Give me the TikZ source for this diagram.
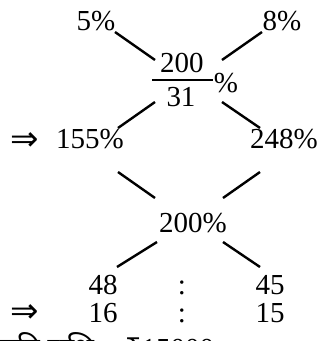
\documentclass[tikz,border=0pt]{standalone}
\usepackage{fontspec}
\setmainfont{Liberation Serif}
\newfontfamily\devfont[Script=Devanagari]{Noto Sans}
\newfontfamily\symfont{DejaVu Sans}
\begin{document}
\begin{tikzpicture}[x=1pt,y=-1pt,
  lbl/.style={inner sep=0pt,anchor=base,font=\fontsize{29}{32}\selectfont},
  arr/.style={inner sep=0pt,anchor=base,font=\symfont\fontsize{34}{36}\selectfont},
  ln/.style={line width=2.4pt}]
\useasboundingbox (0,0) rectangle (323,341);
\clip (0,0) rectangle (323,341);
% top
\node[lbl] (p5) at (96,30) {5\%};
\node[lbl] (p8) at (282,30) {8\%};
\node[lbl] (num) at (182,72) {200};
\node[lbl] (den) at (181,106) {31};
\node[lbl] (pc) at (226,92) {\%};
\coordinate (barL) at (152,80);
\coordinate (barR) at (213,80);
\draw[line width=1.5pt] (barL) -- (barR);
% middle row
\node[arr] (imp1) at (25,150) {⇒};
\node[lbl] (p155) at (90,148) {155\%};
\node[lbl] (p248) at (284,148) {248\%};
\node[lbl] (p200) at (193,232) {200\%};
% bottom rows
\node[lbl] (n48) at (103,294) {48};
\node[lbl] (c1) at (182,294) {:};
\node[lbl] (n45) at (270,294) {45};
\node[arr] (imp2) at (25,322) {⇒};
\node[lbl] (n16) at (103,322) {16};
\node[lbl] (c2) at (182,322) {:};
\node[lbl] (n15) at (270,322) {15};
\node[lbl,anchor=base west] (cut) at (0,358) {{\devfont यदि राशि} = {\devfont ₹}15000};
% connectors
\coordinate (a1) at (115,32); \coordinate (a2) at (155,60);
\coordinate (b1) at (262,32); \coordinate (b2) at (222,60);
\draw[ln] (a1) -- (a2);
\draw[ln] (b1) -- (b2);
\coordinate (c1a) at (155,102); \coordinate (c1b) at (118,128);
\coordinate (d1a) at (222,102); \coordinate (d1b) at (260,128);
\draw[ln] (c1a) -- (c1b);
\draw[ln] (d1a) -- (d1b);
\coordinate (e1) at (118,172); \coordinate (e2) at (155,198);
\coordinate (f1) at (260,172); \coordinate (f2) at (223,198);
\draw[ln] (e1) -- (e2);
\draw[ln] (f1) -- (f2);
\coordinate (g1) at (157,242); \coordinate (g2) at (117,267);
\coordinate (h1) at (223,242); \coordinate (h2) at (260,267);
\draw[ln] (g1) -- (g2);
\draw[ln] (h1) -- (h2);
\end{tikzpicture}
\end{document}
